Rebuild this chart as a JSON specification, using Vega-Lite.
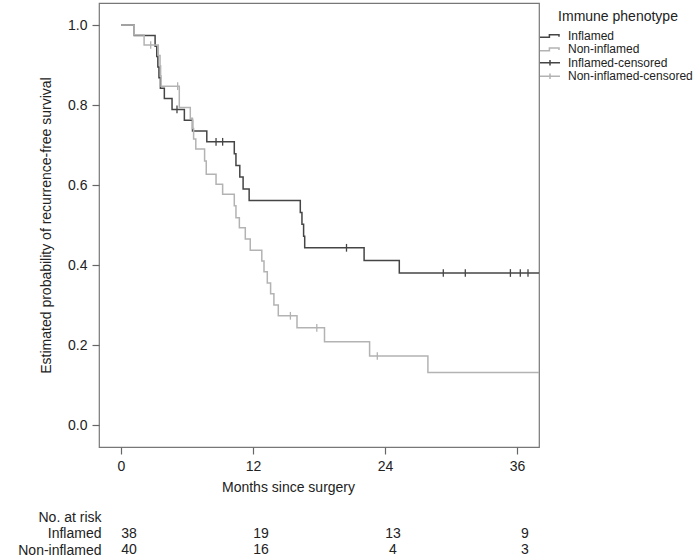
{
  "$schema": "https://vega.github.io/schema/vega-lite/v6.json",
  "padding": {"left": 17, "top": 2, "right": 0, "bottom": 0},
  "bounds": "flush",
  "spacing": 70,
  "config": {
    "font": "Liberation Sans",
    "view": {"stroke": null},
    "axis": {"domain": false, "grid": false, "tickColor": "#666", "tickSize": 7, "tickWidth": 1.2, "labelColor": "#222", "titleColor": "#222", "labelFontSize": 14, "titleFontSize": 14, "titleFontWeight": "normal"}
  },
  "datasets": {
    "curves": [
      {"group": "Inflamed", "t": 0, "s": 1.0},
      {"group": "Inflamed", "t": 1.2, "s": 0.974},
      {"group": "Inflamed", "t": 3.1, "s": 0.947},
      {"group": "Inflamed", "t": 3.25, "s": 0.921},
      {"group": "Inflamed", "t": 3.35, "s": 0.895},
      {"group": "Inflamed", "t": 3.45, "s": 0.868},
      {"group": "Inflamed", "t": 3.58, "s": 0.842},
      {"group": "Inflamed", "t": 3.94, "s": 0.816},
      {"group": "Inflamed", "t": 4.64, "s": 0.789},
      {"group": "Inflamed", "t": 5.76, "s": 0.762},
      {"group": "Inflamed", "t": 6.5, "s": 0.735},
      {"group": "Inflamed", "t": 7.8, "s": 0.708},
      {"group": "Inflamed", "t": 10.3, "s": 0.678},
      {"group": "Inflamed", "t": 10.45, "s": 0.649},
      {"group": "Inflamed", "t": 10.8, "s": 0.62},
      {"group": "Inflamed", "t": 11.1, "s": 0.59},
      {"group": "Inflamed", "t": 11.65, "s": 0.561},
      {"group": "Inflamed", "t": 16.3, "s": 0.531},
      {"group": "Inflamed", "t": 16.45, "s": 0.502},
      {"group": "Inflamed", "t": 16.6, "s": 0.472},
      {"group": "Inflamed", "t": 16.7, "s": 0.443},
      {"group": "Inflamed", "t": 22.1, "s": 0.411},
      {"group": "Inflamed", "t": 25.3, "s": 0.38},
      {"group": "Inflamed", "t": 38, "s": 0.38},
      {"group": "Non-inflamed", "t": 0, "s": 1.0},
      {"group": "Non-inflamed", "t": 1.2, "s": 0.975},
      {"group": "Non-inflamed", "t": 2.1, "s": 0.95},
      {"group": "Non-inflamed", "t": 3.39, "s": 0.924},
      {"group": "Non-inflamed", "t": 3.55, "s": 0.898},
      {"group": "Non-inflamed", "t": 3.6, "s": 0.873},
      {"group": "Non-inflamed", "t": 3.64, "s": 0.847},
      {"group": "Non-inflamed", "t": 5.3, "s": 0.794},
      {"group": "Non-inflamed", "t": 6.3, "s": 0.767},
      {"group": "Non-inflamed", "t": 6.5, "s": 0.741},
      {"group": "Non-inflamed", "t": 6.6, "s": 0.715},
      {"group": "Non-inflamed", "t": 6.8, "s": 0.69},
      {"group": "Non-inflamed", "t": 7.6, "s": 0.66},
      {"group": "Non-inflamed", "t": 7.75, "s": 0.627},
      {"group": "Non-inflamed", "t": 8.64, "s": 0.602},
      {"group": "Non-inflamed", "t": 9.24, "s": 0.577},
      {"group": "Non-inflamed", "t": 10.3, "s": 0.548},
      {"group": "Non-inflamed", "t": 10.45, "s": 0.518},
      {"group": "Non-inflamed", "t": 10.76, "s": 0.493},
      {"group": "Non-inflamed", "t": 11.3, "s": 0.465},
      {"group": "Non-inflamed", "t": 11.75, "s": 0.437},
      {"group": "Non-inflamed", "t": 12.8, "s": 0.41},
      {"group": "Non-inflamed", "t": 13.0, "s": 0.383},
      {"group": "Non-inflamed", "t": 13.3, "s": 0.355},
      {"group": "Non-inflamed", "t": 13.6, "s": 0.328},
      {"group": "Non-inflamed", "t": 13.9, "s": 0.3},
      {"group": "Non-inflamed", "t": 14.3, "s": 0.273},
      {"group": "Non-inflamed", "t": 16.0, "s": 0.243},
      {"group": "Non-inflamed", "t": 18.5, "s": 0.208},
      {"group": "Non-inflamed", "t": 22.6, "s": 0.1725},
      {"group": "Non-inflamed", "t": 27.9, "s": 0.131},
      {"group": "Non-inflamed", "t": 38, "s": 0.131}
    ],
    "censored": [
      {"group": "Inflamed-censored", "t": 5.09, "s": 0.789},
      {"group": "Inflamed-censored", "t": 8.64, "s": 0.708},
      {"group": "Inflamed-censored", "t": 9.24, "s": 0.708},
      {"group": "Inflamed-censored", "t": 20.5, "s": 0.443},
      {"group": "Inflamed-censored", "t": 29.3, "s": 0.38},
      {"group": "Inflamed-censored", "t": 31.3, "s": 0.38},
      {"group": "Inflamed-censored", "t": 35.4, "s": 0.38},
      {"group": "Inflamed-censored", "t": 36.3, "s": 0.38},
      {"group": "Inflamed-censored", "t": 37.0, "s": 0.38},
      {"group": "Non-inflamed-censored", "t": 2.7, "s": 0.95},
      {"group": "Non-inflamed-censored", "t": 5.15, "s": 0.847},
      {"group": "Non-inflamed-censored", "t": 15.4, "s": 0.273},
      {"group": "Non-inflamed-censored", "t": 17.8, "s": 0.243},
      {"group": "Non-inflamed-censored", "t": 23.3, "s": 0.1725}
    ],
    "risk": [
      {"row": "Inflamed", "month": 0, "n": 38},
      {"row": "Inflamed", "month": 12, "n": 19},
      {"row": "Inflamed", "month": 24, "n": 13},
      {"row": "Inflamed", "month": 36, "n": 9},
      {"row": "Non-inflamed", "month": 0, "n": 40},
      {"row": "Non-inflamed", "month": 12, "n": 16},
      {"row": "Non-inflamed", "month": 24, "n": 4},
      {"row": "Non-inflamed", "month": 36, "n": 3}
    ]
  },
  "vconcat": [
    {
      "width": 440,
      "height": 444,
      "view": {"stroke": "#777", "strokeWidth": 1.2},
      "encoding": {
        "x": {"field": "t", "type": "quantitative", "scale": {"domain": [-2, 38], "nice": false, "zero": false},
              "axis": {"values": [0, 12, 24, 36], "title": "Months since surgery", "labelPadding": 5, "titlePadding": 7, "titleX": 189, "labelFlush": false}},
        "y": {"field": "s", "type": "quantitative", "scale": {"domain": [-0.055, 1.055], "nice": false, "zero": false},
              "axis": {"values": [0, 0.2, 0.4, 0.6, 0.8, 1.0], "format": ".1f", "title": "Estimated probability of recurrence-free survival", "labelPadding": 5, "titlePadding": 14}},
        "color": {"field": "group", "type": "nominal",
                  "scale": {"domain": ["Inflamed", "Non-inflamed", "Inflamed-censored", "Non-inflamed-censored"], "range": ["#454545", "#b3b3b3", "#454545", "#b3b3b3"]},
                  "legend": {"title": "Immune phenotype", "orient": "none", "legendX": 444, "legendY": 7,
                             "titleFontSize": 14, "titleFontWeight": "normal", "titleAnchor": "middle", "titlePadding": 5, "titleColor": "#222",
                             "labelFontSize": 12, "labelColor": "#222", "labelOffset": 11,
                             "symbolSize": 144, "symbolStrokeWidth": 1.5, "rowPadding": 0.4,
                             "encode": {"symbols": {"update": {
                               "shape": {"signal": "indexof(datum.value, 'censored') >= 0 ? 'M-1.67,0L1.67,0M0,-0.45L0,0.45' : 'M-1.67,0.22L-0.1,0.22L-0.1,-0.22L1.5,-0.22L1.5,0.12'"},
                               "fill": {"value": "transparent"}}}}}}
      },
      "layer": [
        {"data": {"name": "curves"}, "mark": {"type": "line", "interpolate": "step-after", "strokeWidth": 1.5}},
        {"data": {"name": "censored"}, "mark": {"type": "point", "shape": "M0,-1L0,1", "size": 60, "filled": false, "strokeWidth": 1.3, "opacity": 1}}
      ]
    },
    {
      "width": 440,
      "height": 33,
      "view": {"stroke": null},
      "data": {"name": "risk"},
      "mark": {"type": "text", "fontSize": 14, "color": "#222", "dx": 8, "baseline": "middle"},
      "encoding": {
        "x": {"field": "month", "type": "quantitative", "scale": {"domain": [-2, 38], "nice": false, "zero": false}, "axis": null},
        "y": {"field": "row", "type": "ordinal", "scale": {"type": "point", "domain": ["No. at risk", "Inflamed", "Non-inflamed"], "padding": 0},
              "axis": {"title": null, "domain": false, "ticks": false, "tickSize": 0, "labelPadding": 0, "offset": -2, "labelFontSize": 14, "labelColor": "#222"}},
        "text": {"field": "n", "type": "quantitative"}
      }
    }
  ]
}
